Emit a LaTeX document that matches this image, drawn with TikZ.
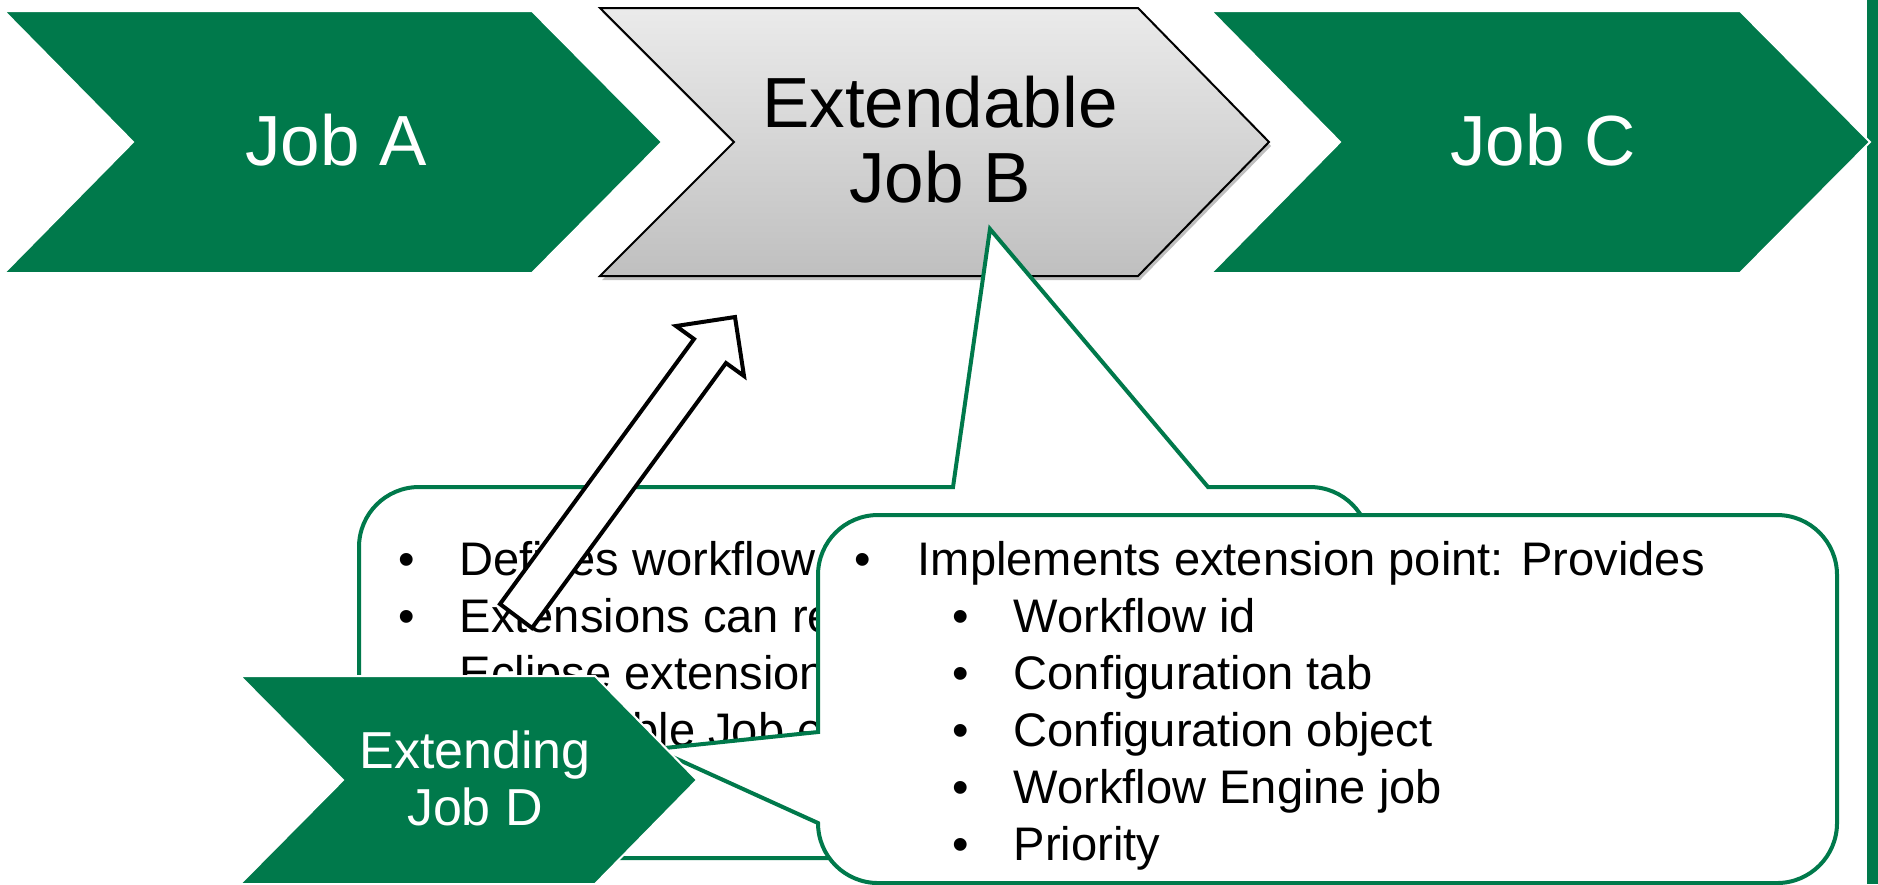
\documentclass[tikz,border=0pt]{standalone}
\usepackage{fontspec}
\setmainfont{Liberation Sans}
\definecolor{jobgreen}{RGB}{0,121,75}
\tikzset{
  jobshape/.style={fill=jobgreen, draw=white, line width=0.2mm},
  bubble/.style={fill=white, draw=jobgreen, line width=0.4mm},
  bigtext/.style={anchor=base, inner sep=0pt, font=\fontsize{20.2}{24}\selectfont},
  jobdtext/.style={anchor=base, inner sep=0pt, text=white, font=\fontsize{14.8}{17}\selectfont},
  listtext/.style={anchor=base west, inner sep=0pt, font=\fontsize{13.4}{16}\selectfont},
  listdot/.style={anchor=base, inner sep=0pt, font=\fontsize{13.4}{16}\selectfont},
}
\begin{document}
\begin{tikzpicture}[x=0.1mm,y=-0.1mm]
\useasboundingbox (0,0) rectangle (1878,884);

% jobs in a row
\path[jobshape] (4,11) -- (532,11) -- (662,142) -- (532,273) -- (4,273) -- (133,142) -- cycle;
\node[bigtext,text=white] (jobA) at (336,165) {Job A};

\fill[black,opacity=0.25] (602,12) -- (1140,12) -- (1271,146) -- (1140,280) -- (602,280) -- (736,146) -- cycle;
\shade[top color=black!8,bottom color=black!25,draw=black,line width=0.2mm] (600,8) -- (1138,8) -- (1269,142) -- (1138,276) -- (600,276) -- (734,142) -- cycle;
\node[bigtext] (extB) at (940,127) {Extendable};
\node[bigtext] (jobB) at (940,202) {Job B};

\fill[jobgreen] (1867,0) rectangle (1878,884);
\path[jobshape] (1211,11) -- (1740,11) -- (1870,142) -- (1740,273) -- (1211,273) -- (1340,142) -- cycle;
\node[bigtext,text=white] (jobC) at (1543,165) {Job C};

%---------------------------------

\path[bubble] (419,487) -- (953,487) -- (990,229) -- (1208,487) -- (1310,487)
  arc[start angle=270,end angle=360,radius=60] -- (1370,798)
  arc[start angle=0,end angle=90,radius=60] -- (419,858)
  arc[start angle=90,end angle=180,radius=60] -- (359,547)
  arc[start angle=180,end angle=270,radius=60] -- cycle;
\node[listdot] (dotA) at (407,575) {•};
\node[listtext] (defines) at (459,575) {Defines workflow};
\node[listdot] (dotB) at (407,632) {•};
\node[listtext] (register) at (459,632) {Extensions can re};
\node[listtext] (eclipse) at (459,689) {Eclipse extension};
\node[listtext] (extjob) at (459,746) {Extendable Job e};

\filldraw[fill=white,draw=black,line width=0.4mm] (500,604) -- (694,339) -- (676,326) -- (735,317) -- (744,376) -- (726,363) -- (532,628) -- cycle;

%---------------------------------

\path[bubble] (878,515) -- (1777,515)
  arc[start angle=270,end angle=360,radius=60] -- (1837,823)
  arc[start angle=0,end angle=90,radius=60] -- (878,883)
  arc[start angle=90,end angle=180,radius=60] -- (818,823) -- (655,749) -- (818,732) -- (818,575)
  arc[start angle=180,end angle=270,radius=60] -- cycle;
\node[listdot] (dotC) at (863,575) {•};
\node[listtext] (implements) at (917,575) {Implements extension point: Provides};
\foreach \t [count=\i] in {Workflow id, Configuration tab, Configuration object, Workflow Engine job, Priority} {
  \node[listdot] (subdot\i) at (961,{575+57*\i}) {•};
  \node[listtext] (sub\i) at (1013,{575+57*\i}) {\t};
}

%---------------------------------

\path[jobshape] (240,676) -- (595,676) -- (697,780) -- (595,884) -- (240,884) -- (343,780) -- cycle;
\node[jobdtext] (extD) at (475,768) {Extending};
\node[jobdtext] (jobD) at (475,825) {Job D};
\end{tikzpicture}
\end{document}
